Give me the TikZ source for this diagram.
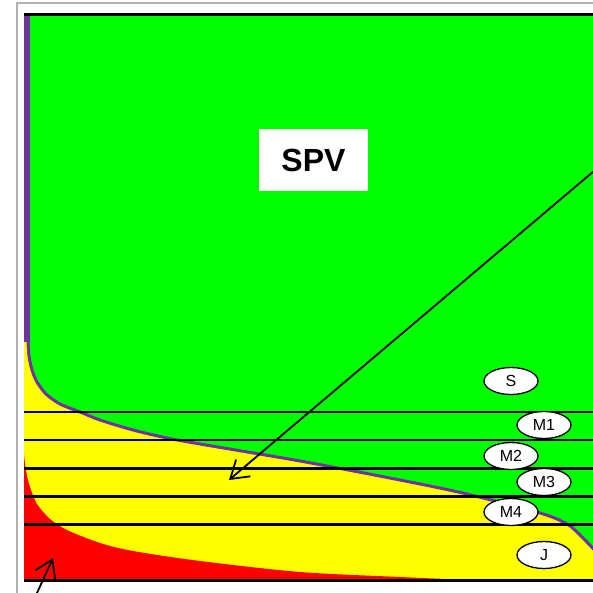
\documentclass[tikz,border=0pt]{standalone}
\usepackage{fontspec}
\setmainfont{Liberation Sans}
\usetikzlibrary{arrows.meta,shapes.geometric}
\definecolor{spvgreen}{RGB}{0,255,0}
\definecolor{spvyellow}{RGB}{255,255,0}
\definecolor{spvred}{RGB}{255,0,0}
\definecolor{spvpurple}{RGB}{112,50,160}
\tikzset{
  frame/.style={draw=black!30, line width=2pt},
  level/.style={line width=2.5pt},
  tag/.style={ellipse, draw, line width=1.3pt, fill=white, minimum width=54pt, minimum height=27pt, inner sep=0pt, font=\fontsize{16}{16}\selectfont},
  label/.style={fill=white, minimum width=109pt, minimum height=62pt, font=\fontsize{32}{32}\selectfont\bfseries},
  arr/.style={-{Straight Barb[length=17pt,width=22pt]}, line width=1.8pt}}

\begin{document}
\begin{tikzpicture}[x=1pt, y=-1pt]
  \useasboundingbox (0,0) rectangle (593,593);
  \draw[frame] (16.5,605) -- (16.5,3) -- (605,3);
  \begin{scope}
    \clip (24,16) rectangle (605,581);
    \fill[spvyellow] (24,16) rectangle (605,581);
    % green region with its purple edge
    \filldraw[fill=spvgreen, draw=spvpurple, line width=3pt] (610,5) -- (28,5) -- plot[smooth] coordinates {(28,340) (29,356) (32,370) (37,382) (46,394) (60,404) (80,412) (100,420) (133,430) (167,438) (200,444) (300,461) (400,480) (467,494) (540,513) (567,524) (582,537) (600,556)} -- (610,556) -- cycle;
    \fill[spvpurple] (24,5) rectangle (30,342);
    % red region
    \fill[spvred] (24,452) -- plot[smooth] coordinates {(24,455) (26,471) (30,487) (37,504) (50,519) (67,530) (100,543) (133,551) (200,561) (300,572) (400,577) (470,580)} -- (24,582) -- cycle;
  \end{scope}
  \draw[line width=3pt] (24,14.3) -- (605,14.3);
  \foreach \y in {412,440,468.5,496.5,524.5,580.5}
    \draw[level] (24,\y) -- (605,\y);
  \node[label] (spv) at (313.5,160) {SPV};
  \node[tag] (s) at (511,381) {S};
  \node[tag] (m1) at (544,425) {M1};
  \node[tag] (m2) at (511,456) {M2};
  \node[tag] (m3) at (544,482) {M3};
  \node[tag] (m4) at (511,512) {M4};
  \node[tag] (j) at (544,555) {J};
  \coordinate (tailA) at (620,149);
  \coordinate (tipA) at (229,480);
  \coordinate (tailB) at (31.5,605);
  \coordinate (tipB) at (53,558);
  \draw[arr] (tailA) -- (tipA);
  \draw[arr] (tailB) -- (tipB);
\end{tikzpicture}
\end{document}
